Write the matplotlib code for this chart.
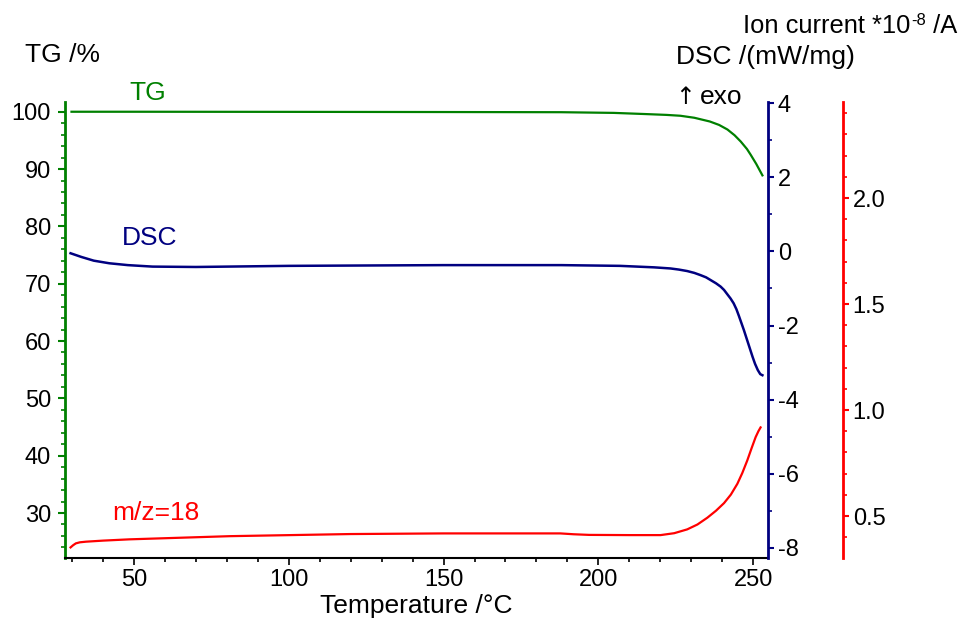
import matplotlib
matplotlib.use("Agg")
import matplotlib.pyplot as plt
from matplotlib.ticker import MultipleLocator
from matplotlib.transforms import offset_copy

plt.rcParams['font.family'] = ['Liberation Sans', 'DejaVu Sans']
plt.rcParams['axes.unicode_minus'] = False

# ---- data ----
tg_T = [29.8, 50, 100, 150, 188, 205, 215, 222, 226.5, 231, 236, 239, 241.7,
        244, 246, 248, 249.2, 251, 253]
tg_v = [100.0, 100.0, 99.98, 99.95, 99.92, 99.8, 99.6, 99.45, 99.3, 98.95,
        98.3, 97.7, 96.9, 95.9, 94.8, 93.5, 92.5, 90.9, 88.9]

dsc_T = [29.5, 33, 37, 42, 48, 56, 70, 100, 150, 188, 207, 218, 223.3, 226,
         228.7, 231, 233, 234.8, 236.2, 238, 239.5, 240.6, 241.6, 242.7, 243.7,
         244.6, 245.4, 246.2, 247, 247.7, 248.4, 249.1, 249.8, 250.6, 251.5,
         252.3, 253]
dsc_v = [-0.05, -0.15, -0.25, -0.32, -0.37, -0.41, -0.42, -0.39, -0.37, -0.37,
         -0.39, -0.43, -0.46, -0.49, -0.53, -0.58, -0.64, -0.70, -0.77, -0.86,
         -0.95, -1.04, -1.15, -1.27, -1.40, -1.56, -1.74, -1.93, -2.12, -2.30,
         -2.48, -2.66, -2.84, -3.03, -3.20, -3.31, -3.34]

ion_T = [29.5, 30.3, 31.2, 32.5, 34.5, 40, 48.5, 81, 120, 150, 187.7, 192,
         197, 210, 220.1, 224.5, 228.7, 232, 235.2, 238, 240.6, 242.8, 244.9,
         246.5, 248.1, 249.5, 250.8, 251.7, 252.4]
ion_v = [0.352, 0.362, 0.371, 0.376, 0.379, 0.384, 0.39, 0.405, 0.415, 0.418,
         0.418, 0.414, 0.411, 0.41, 0.41, 0.419, 0.437, 0.460, 0.492, 0.525,
         0.561, 0.601, 0.652, 0.703, 0.762, 0.820, 0.872, 0.900, 0.918]

GREEN = '#008000'
NAVY = '#000080'
RED = '#ff0000'
FS = 17      # tick labels
FT = 19      # other text

W, H = 968, 621
fig = plt.figure(figsize=(W / 100, H / 100), dpi=100)
L, R, B, T = 65, 768, 558, 102
ax = fig.add_axes([L / W, 1 - B / H, (R - L) / W, (B - T) / H])
ax2 = ax.twinx()
ax3 = ax.twinx()

ax.plot(tg_T, tg_v, color=GREEN, lw=1.6)
ax2.plot(dsc_T, dsc_v, color=NAVY, lw=1.8)
ax3.plot(ion_T, ion_v, color=RED, lw=1.6)

ax.set_xlim(27.7, 254.8)
ax.set_ylim(22.15, 101.7)
ax2.set_ylim(-8.27, 4.03)
ax3.set_ylim(0.302, 2.453)

# spines
for a in (ax, ax2, ax3):
    a.spines['top'].set_visible(False)
ax.spines['right'].set_visible(False)
ax.spines['left'].set_color(GREEN)
ax.spines['left'].set_linewidth(2)
ax.spines['bottom'].set_color('black')
ax.spines['bottom'].set_linewidth(1.5)
for a in (ax2, ax3):
    a.spines['left'].set_visible(False)
    a.spines['bottom'].set_visible(False)
ax2.spines['right'].set_color(NAVY)
ax2.spines['right'].set_linewidth(2)
ax3.spines['right'].set_color(RED)
ax3.spines['right'].set_linewidth(2)
ax3.spines['right'].set_position(('axes', (843 - L) / (R - L)))

# ticks
ax.xaxis.set_major_locator(MultipleLocator(50))
ax.xaxis.set_minor_locator(MultipleLocator(10))
ax.tick_params(axis='x', which='major', direction='out', length=5, width=1.2,
               colors='black', labelsize=FS, pad=3)
ax.tick_params(axis='x', which='minor', direction='out', length=3, width=1.2,
               colors='black')

ax.set_yticks([30, 40, 50, 60, 70, 80, 90, 100])
ax.yaxis.set_minor_locator(MultipleLocator(2))
ax.tick_params(axis='y', which='major', direction='out', length=5, width=1.5,
               color=GREEN, labelcolor='black', labelsize=FS, pad=5)
ax.tick_params(axis='y', which='minor', direction='out', length=3, width=1.2,
               color=GREEN)

ax2.set_yticks([-8, -6, -4, -2, 0, 2, 4])
ax2.yaxis.set_minor_locator(MultipleLocator(1))
ax2.tick_params(axis='y', which='major', direction='out', length=4, width=1.5,
                color=NAVY, labelcolor='black', labelsize=FS, pad=3)
ax2.tick_params(axis='y', which='minor', direction='out', length=3, width=1.2,
                color=NAVY)

ax3.set_yticks([0.5, 1.0, 1.5, 2.0])
ax3.set_yticklabels(['0.5', '1.0', '1.5', '2.0'])
ax3.yaxis.set_minor_locator(MultipleLocator(0.1))
ax3.tick_params(axis='y', which='major', direction='out', length=4, width=1.5,
                color=RED, labelcolor='black', labelsize=FS, pad=3)
ax3.tick_params(axis='y', which='minor', direction='out', length=3, width=1.2,
                color=RED)

ax.set_xlabel('Temperature /°C', fontsize=FT, labelpad=2)


def ftext(x, y, s, size=FT, **kw):
    return fig.text(x / W, 1 - y / H, s, fontsize=size, **kw)


ftext(25, 55, 'TG /%', ha='left', va='center')
ftext(676, 57, 'DSC /(mW/mg)', ha='left', va='center')
ftext(675, 97, '↑', ha='left', va='center', family=['DejaVu Sans'], size=17)
ftext(700, 97, 'exo', ha='left', va='center')

# "Ion current *10^-8 /A" built from pieces so the superscript uses a hyphen
renderer = fig.canvas.get_renderer()
TS = 18.4
t1 = ftext(743, 33, 'Ion current *10', size=TS, ha='left', va='baseline')
w1 = t1.get_window_extent(renderer).width
t2 = fig.text(743 / W, 1 - 33 / H, '-8', fontsize=12, ha='left', va='baseline',
              transform=offset_copy(fig.transFigure, fig=fig, x=w1 + 1, y=8,
                                    units='dots'))
w2 = t2.get_window_extent(renderer).width
fig.text(743 / W, 1 - 33 / H, ' /A', fontsize=TS, ha='left', va='baseline',
         transform=offset_copy(fig.transFigure, fig=fig, x=w1 + w2 + 1, y=0,
                               units='dots'))

ftext(148, 93, 'TG', ha='center', va='center', color=GREEN)
ftext(150, 238, 'DSC', ha='center', va='center', color=NAVY)
ftext(156, 513, 'm/z=18', ha='center', va='center', color=RED)

fig.savefig('out.png', dpi=100)
